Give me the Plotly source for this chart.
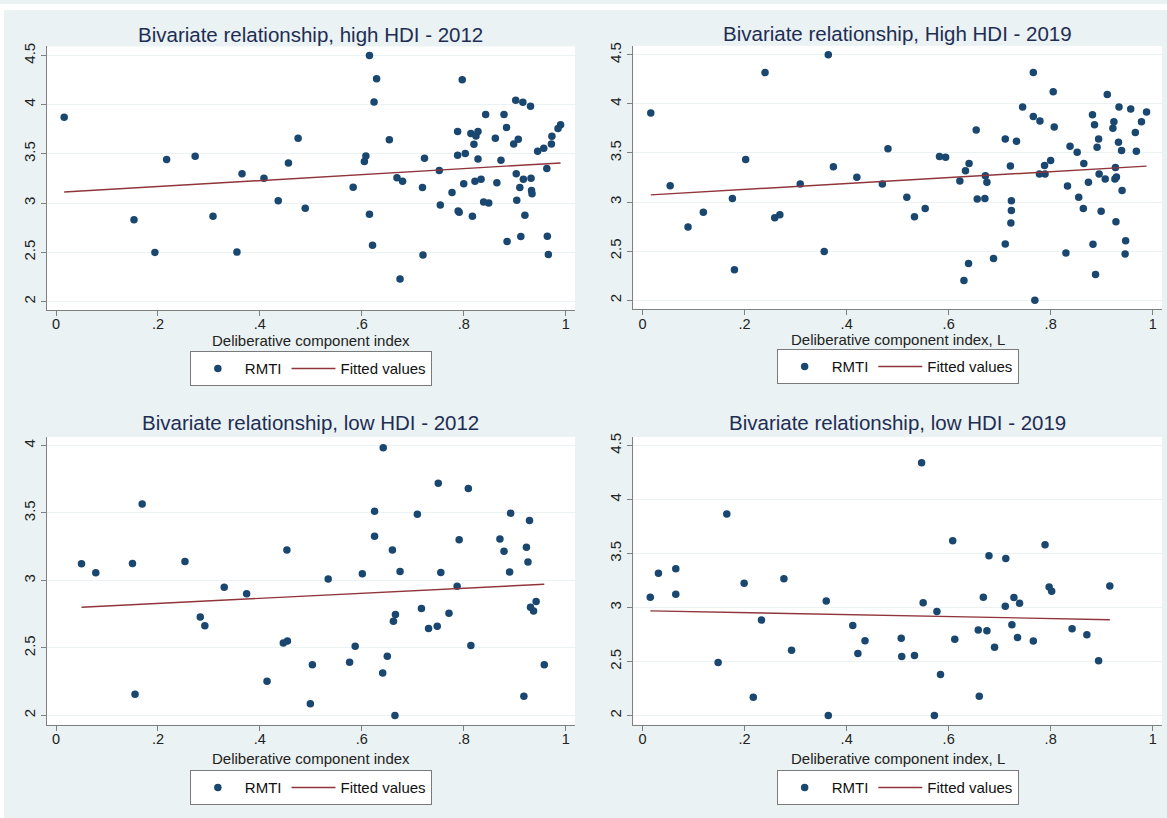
import plotly.graph_objects as go

# ---------------- data ----------------
# Panel 1: high HDI - 2012
hi12_x = [0.016, 0.153, 0.194, 0.217, 0.273, 0.308, 0.355, 0.365, 0.408, 0.436, 0.456, 0.475, 0.489,
          0.583, 0.605, 0.608, 0.615, 0.615, 0.629, 0.624, 0.621, 0.654, 0.669, 0.680, 0.675, 0.719,
          0.723, 0.720, 0.752, 0.754, 0.777, 0.788, 0.788, 0.789, 0.791, 0.797, 0.800, 0.803, 0.814,
          0.817, 0.820, 0.822, 0.824, 0.828, 0.828, 0.834, 0.839, 0.843, 0.849, 0.862, 0.865, 0.873,
          0.879, 0.884, 0.885, 0.898, 0.902, 0.903, 0.904, 0.907, 0.910, 0.912, 0.916, 0.917, 0.920,
          0.931, 0.932, 0.933, 0.934, 0.945, 0.957, 0.963, 0.964, 0.966, 0.972, 0.973, 0.985, 0.990]
hi12_y = [3.873, 2.832, 2.499, 3.442, 3.476, 2.866, 2.502, 3.297, 3.253, 3.024, 3.408, 3.658, 2.947,
          3.162, 3.422, 3.479, 4.500, 2.886, 4.264, 4.028, 2.573, 3.644, 3.257, 3.223, 2.229, 3.159,
          3.456, 2.472, 3.331, 2.980, 3.108, 3.728, 3.486, 2.920, 2.906, 4.254, 3.196, 3.503, 3.708,
          2.866, 3.597, 3.223, 3.681, 3.728, 3.449, 3.243, 3.011, 3.900, 3.001, 3.658, 3.206, 3.435,
          3.900, 3.769, 2.610, 3.600, 4.045, 3.297, 3.028, 3.648, 3.159, 2.660, 4.025, 3.243, 2.876,
          3.985, 3.253, 3.129, 3.095, 3.526, 3.557, 3.351, 2.664, 2.478, 3.600, 3.678, 3.759, 3.796]
hi12_fit_x = [0.016, 0.990]
hi12_fit_y = [3.112, 3.408]

# Panel 2: High HDI - 2019
hi19_x = [0.016, 0.054, 0.089, 0.119, 0.176, 0.180, 0.202, 0.240, 0.259, 0.269, 0.309, 0.356, 0.364,
          0.374, 0.420, 0.470, 0.481, 0.518, 0.533, 0.554, 0.582, 0.594, 0.622, 0.630, 0.633, 0.639,
          0.640, 0.654, 0.656, 0.671, 0.672, 0.675, 0.688, 0.711, 0.711, 0.721, 0.722, 0.723, 0.723,
          0.733, 0.745, 0.766, 0.766, 0.769, 0.778, 0.779, 0.788, 0.789, 0.800, 0.805, 0.807, 0.830,
          0.833, 0.838, 0.852, 0.855, 0.864, 0.865, 0.874, 0.882, 0.883, 0.886, 0.888, 0.891, 0.894,
          0.895, 0.899, 0.907, 0.911, 0.922, 0.924, 0.926, 0.927, 0.928, 0.929, 0.933, 0.934, 0.939,
          0.940, 0.946, 0.947, 0.957, 0.966, 0.968, 0.978, 0.988]
hi19_y = [3.906, 3.167, 2.746, 2.897, 3.036, 2.310, 3.434, 4.318, 2.840, 2.870, 3.184, 2.496, 4.500,
          3.360, 3.252, 3.184, 3.542, 3.049, 2.850, 2.935, 3.464, 3.457, 3.215, 2.202, 3.319, 2.374,
          3.393, 3.734, 3.032, 3.036, 3.269, 3.201, 2.425, 3.643, 2.574, 3.366, 2.786, 3.012, 2.914,
          3.619, 3.967, 4.318, 3.872, 2.000, 3.285, 3.825, 3.373, 3.285, 3.424, 4.122, 3.765, 2.482,
          3.164, 3.569, 3.508, 3.049, 2.935, 3.393, 3.201, 3.889, 2.570, 3.788, 2.263, 3.559, 3.643,
          3.285, 2.907, 3.235, 4.095, 3.751, 3.818, 3.235, 3.353, 2.800, 3.255, 3.609, 3.967, 3.525,
          3.117, 2.472, 2.607, 3.947, 3.707, 3.518, 3.818, 3.916]
hi19_fit_x = [0.016, 0.988]
hi19_fit_y = [3.073, 3.366]

# Panel 3: low HDI - 2012
lo12_x = [0.050, 0.078, 0.150, 0.169, 0.155, 0.253, 0.283, 0.292, 0.330, 0.374, 0.414, 0.446, 0.454,
          0.453, 0.499, 0.503, 0.534, 0.576, 0.587, 0.601, 0.625, 0.625, 0.641, 0.642, 0.650, 0.660,
          0.662, 0.666, 0.665, 0.675, 0.709, 0.717, 0.731, 0.748, 0.750, 0.755, 0.771, 0.787, 0.791,
          0.809, 0.814, 0.871, 0.879, 0.890, 0.892, 0.918, 0.923, 0.926, 0.929, 0.931, 0.937, 0.942,
          0.958]
lo12_y = [3.124, 3.058, 3.126, 3.566, 2.157, 3.141, 2.729, 2.665, 2.950, 2.901, 2.253, 2.537, 2.552,
          3.225, 2.086, 2.375, 3.011, 2.395, 2.513, 3.050, 3.328, 3.512, 2.314, 3.983, 2.439, 3.225,
          2.697, 2.748, 2.000, 3.067, 3.490, 2.793, 2.645, 2.660, 3.720, 3.060, 2.758, 2.957, 3.301,
          3.681, 2.518, 3.308, 3.217, 3.063, 3.499, 2.142, 3.247, 3.136, 3.445, 2.802, 2.773, 2.844,
          2.375]
lo12_fit_x = [0.050, 0.958]
lo12_fit_y = [2.802, 2.972]

# Panel 4: low HDI - 2019
lo19_x = [0.015, 0.031, 0.065, 0.065, 0.148, 0.165, 0.199, 0.217, 0.233, 0.277, 0.292, 0.360, 0.364,
          0.412, 0.422, 0.436, 0.507, 0.508, 0.533, 0.547, 0.550, 0.572, 0.577, 0.584, 0.608, 0.612,
          0.658, 0.660, 0.668, 0.675, 0.679, 0.690, 0.711, 0.712, 0.724, 0.728, 0.735, 0.739, 0.766,
          0.789, 0.797, 0.802, 0.842, 0.871, 0.894, 0.916]
lo19_y = [3.095, 3.316, 3.359, 3.123, 2.491, 3.865, 3.224, 2.169, 2.883, 3.267, 2.604, 3.061, 2.000,
          2.834, 2.574, 2.693, 2.715, 2.546, 2.555, 4.340, 3.043, 2.000, 2.963, 2.380, 3.617, 2.706,
          2.791, 2.178, 3.095, 2.785, 3.479, 2.632, 3.012, 3.454, 2.840, 3.092, 2.721, 3.040, 2.690,
          3.580, 3.190, 3.150, 2.804, 2.748, 2.506, 3.199]
lo19_fit_x = [0.015, 0.916]
lo19_fit_y = [2.969, 2.887]

titles = ["Bivariate relationship, high HDI - 2012",
          "Bivariate relationship, High HDI - 2019",
          "Bivariate relationship, low HDI - 2012",
          "Bivariate relationship, low HDI - 2019"]
x_titles = ["Deliberative component index",
            "Deliberative component index, L",
            "Deliberative component index",
            "Deliberative component index, L"]
x_tick_vals = [0, 0.2, 0.4, 0.6, 0.8, 1]
x_tick_text = ["0", ".2", ".4", ".6", ".8", "1"]
y_ticks_high = [2, 2.5, 3, 3.5, 4, 4.5]
y_ticks_low12 = [2, 2.5, 3, 3.5, 4]
y_ticks_low19 = [2, 2.5, 3, 3.5, 4, 4.5]
scatter_name = "RMTI"
fit_name = "Fitted values"

# ---------------- layout geometry (pixels) ----------------
W, H = 1167, 818
BG = "#eaf2f3"
NAVY = "#1a476f"
MAROON = "#90353b"
TITLE_C = "#1e2d53"
FONT = "Liberation Sans, Arial, Helvetica, sans-serif"

panels = [
    dict(box=(46.7, 575.0, 42.7, 307.5), yr=(1.914, 4.591), yt=y_ticks_high,
         x=hi12_x, y=hi12_y, fx=hi12_fit_x, fy=hi12_fit_y, title_y=30.7, xt_y=338.5, leg_y=349),
    dict(box=(633.3, 1162.0, 42.0, 306.7), yr=(1.909, 4.591), yt=y_ticks_high,
         x=hi19_x, y=hi19_y, fx=hi19_fit_x, fy=hi19_fit_y, title_y=29.5, xt_y=337.5, leg_y=347),
    dict(box=(46.7, 575.0, 435.0, 724.3), yr=(1.931, 4.064), yt=y_ticks_low12,
         x=lo12_x, y=lo12_y, fx=lo12_fit_x, fy=lo12_fit_y, title_y=420.7, xt_y=758.5, leg_y=770),
    dict(box=(633.3, 1162.0, 435.0, 724.3), yr=(1.914, 4.58), yt=y_ticks_low19,
         x=lo19_x, y=lo19_y, fx=lo19_fit_x, fy=lo19_fit_y, title_y=420.7, xt_y=758.5, leg_y=770),
]

fig = go.Figure()
annotations = []
layout = {}

for i, p in enumerate(panels):
    n = "" if i == 0 else str(i + 1)
    leg = "legend" if i == 0 else f"legend{i + 1}"
    x0, x1, y0, y1 = p["box"]
    fig.add_trace(go.Scatter(
        x=p["x"], y=p["y"], mode="markers", name=scatter_name,
        marker=dict(color=NAVY, size=7.5, line=dict(width=0)),
        xaxis="x" + n, yaxis="y" + n, legend=leg, hoverinfo="x+y"))
    fig.add_trace(go.Scatter(
        x=p["fx"], y=p["fy"], mode="lines", name=fit_name,
        line=dict(color=MAROON, width=1.4),
        xaxis="x" + n, yaxis="y" + n, legend=leg))

    layout["xaxis" + n] = dict(
        domain=[x0 / W, x1 / W], anchor="y" + n, range=[-0.0183, 1.0183],
        tickvals=x_tick_vals, ticktext=x_tick_text, showgrid=False, zeroline=False,
        showline=True, linecolor="#808080", linewidth=1.2, ticks="outside",
        ticklen=5, tickwidth=1.2, tickcolor="#808080", ticklabelstandoff=-4,
        tickfont=dict(size=14.5, color="#222222", family=FONT), fixedrange=True)
    layout["yaxis" + n] = dict(
        domain=[1 - y1 / H, 1 - y0 / H], anchor="x" + n, range=list(p["yr"]),
        tickvals=p["yt"], ticktext=[("%g" % v) for v in p["yt"]],
        showgrid=True, gridcolor=BG, gridwidth=1.2, zeroline=False,
        showline=True, linecolor="#808080", linewidth=1.2, ticks="outside",
        ticklen=5, tickwidth=1.2, tickcolor="#808080", tickangle=-90,
        tickfont=dict(size=15, color="#222222", family=FONT), fixedrange=True)

    cx = (x0 + x1) / 2 / W
    annotations.append(dict(text=titles[i], x=cx, y=1 - p["title_y"] / H, xref="paper", yref="paper",
                            xanchor="center", yanchor="middle", showarrow=False,
                            font=dict(size=20.5, color=TITLE_C, family=FONT)))
    annotations.append(dict(text=x_titles[i], x=cx, y=1 - p["xt_y"] / H, xref="paper", yref="paper",
                            xanchor="center", yanchor="middle", showarrow=False,
                            font=dict(size=15, color="#222222", family=FONT)))
    layout[leg] = dict(
        orientation="h", x=cx, xanchor="center", y=1 - p["leg_y"] / H, yanchor="top",
        bgcolor="white", bordercolor="#7a7a7a", borderwidth=1, itemwidth=44,
        font=dict(size=15, color="#111111", family=FONT), itemclick=False, itemdoubleclick=False)

shapes = [
    dict(type="rect", xref="paper", yref="paper", x0=0, x1=1, y0=1 - 6 / H, y1=1,
         fillcolor="white", line=dict(width=0), layer="below"),
    dict(type="rect", xref="paper", yref="paper", x0=0, x1=4 / W, y0=0, y1=1,
         fillcolor="white", line=dict(width=0), layer="below"),
]

fig.update_layout(
    width=W, height=H, margin=dict(l=0, r=0, t=0, b=0, pad=0),
    paper_bgcolor=BG, plot_bgcolor="white",
    font=dict(family=FONT, size=15, color="#222222"),
    annotations=annotations, shapes=shapes, showlegend=True, **layout)

fig.write_html("out.html", config={"displayModeBar": False})
